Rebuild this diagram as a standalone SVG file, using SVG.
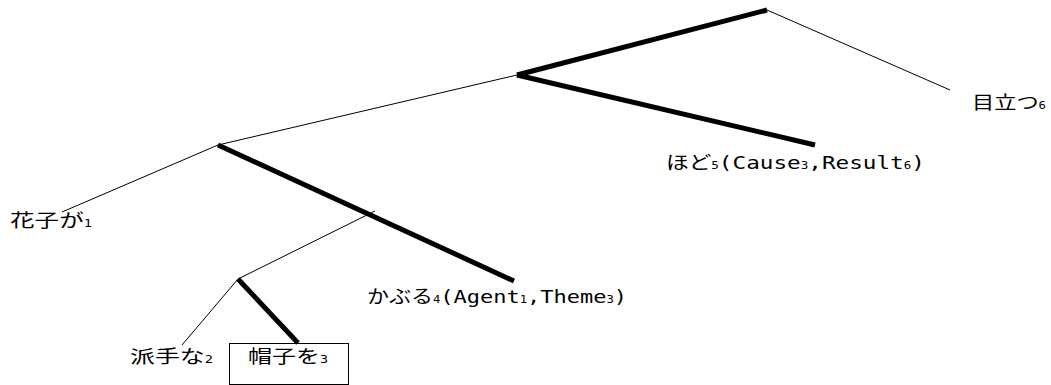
<svg xmlns="http://www.w3.org/2000/svg" width="1051" height="385" viewBox="0 0 1051 385">
<style>
.thin{stroke:#000;stroke-width:1;fill:none}
.thick{stroke:#000;stroke-width:5;fill:none;stroke-linecap:butt}
text{font-family:"Noto Sans CJK JP","Noto Sans",sans-serif;font-size:18px;fill:#000}
.sub{font-size:10px;font-family:"DejaVu Sans Mono","Liberation Mono",monospace}
.lat{font-family:"DejaVu Sans Mono","Liberation Mono",monospace;font-size:18px}
</style>
<rect width="1051" height="385" fill="#fff"/>
<g id="connectors">
<line class="thin" x1="767" y1="10" x2="950" y2="90"/>
<line class="thick" x1="767" y1="10" x2="517" y2="75"/>
<line class="thick" x1="517" y1="75" x2="815" y2="145"/>
<line class="thin" x1="517" y1="75" x2="218" y2="145"/>
<line class="thin" x1="218" y1="145" x2="62" y2="212"/>
<line class="thick" x1="218" y1="145" x2="514" y2="281"/>
<line class="thin" x1="375" y1="211" x2="238" y2="279"/>
<line class="thin" x1="238" y1="279" x2="182" y2="345"/>
<line class="thick" x1="238" y1="279" x2="298" y2="343"/>
</g>
<g id="n-medatsu"><text x="972" y="109" textLength="74" lengthAdjust="spacingAndGlyphs">目立つ<tspan class="sub">6</tspan></text></g>
<g id="n-hodo"><text x="666" y="169" textLength="259" lengthAdjust="spacingAndGlyphs">ほど<tspan class="sub">5</tspan><tspan class="lat">(Cause</tspan><tspan class="sub">3</tspan><tspan class="lat">,Result</tspan><tspan class="sub">6</tspan><tspan class="lat">)</tspan></text></g>
<g id="n-hanako"><text x="10" y="227" textLength="82" lengthAdjust="spacingAndGlyphs">花子が<tspan class="sub">1</tspan></text></g>
<g id="n-kaburu"><text x="367" y="303" textLength="260" lengthAdjust="spacingAndGlyphs">かぶる<tspan class="sub">4</tspan><tspan class="lat">(Agent</tspan><tspan class="sub">1</tspan><tspan class="lat">,Theme</tspan><tspan class="sub">3</tspan><tspan class="lat">)</tspan></text></g>
<g id="n-hade"><text x="130" y="363" textLength="83" lengthAdjust="spacingAndGlyphs">派手な<tspan class="sub">2</tspan></text></g>
<g id="n-boushi"><rect x="229.5" y="343.5" width="119" height="41" fill="none" stroke="#000" stroke-width="1"/><text x="248" y="363" textLength="80" lengthAdjust="spacingAndGlyphs">帽子を<tspan class="sub">3</tspan></text></g>
</svg>
